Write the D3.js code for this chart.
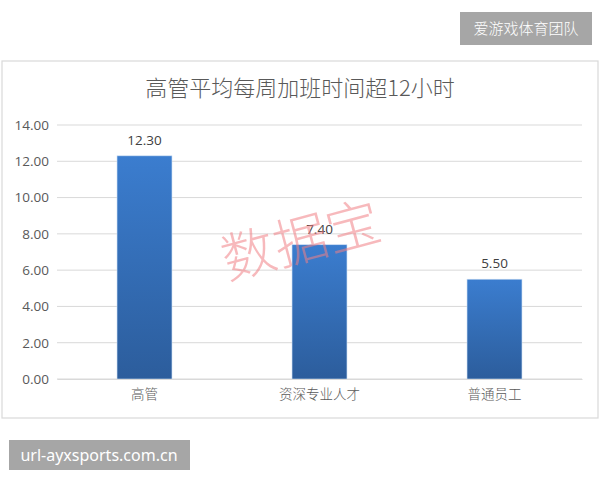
<!DOCTYPE html>
<html lang="zh">
<head>
<meta charset="utf-8" />
<script src="https://d3js.org/d3.v7.min.js"></script>
<style>
  body { margin: 0; background: #fff; }
  svg { display: block; font-family: "Noto Sans CJK SC", "Microsoft YaHei", sans-serif; }
</style>
</head>
<body>
<div id="chart"></div>
<script>
// données
var categories = ["高管", "资深专业人才", "普通员工"];
var values = [12.30, 7.40, 5.50];
var yTicks = [0, 2, 4, 6, 8, 10, 12, 14];
var title = "高管平均每周加班时间超12小时";

var W = 600, H = 480;
var svg = d3.select("#chart").append("svg").attr("width", W).attr("height", H);

// degradé des barres
var grad = svg.append("defs").append("linearGradient")
    .attr("id", "barGrad").attr("x1", 0).attr("y1", 0).attr("x2", 0).attr("y2", 1);
grad.append("stop").attr("offset", "0%").attr("stop-color", "#3b7dcf");
grad.append("stop").attr("offset", "100%").attr("stop-color", "#2c5d9c");

// badge haut droite
svg.append("rect").attr("x", 460).attr("y", 12).attr("width", 132).attr("height", 33).attr("fill", "#a6a6a6");
svg.append("text").attr("x", 526).attr("y", 34).attr("text-anchor", "middle")
    .attr("fill", "#fff").attr("font-size", 15).attr("font-weight", 300).text("爱游戏体育团队");

// cadre du graphique
svg.append("rect").attr("x", 2).attr("y", 61).attr("width", 596).attr("height", 357)
    .attr("fill", "#fff").attr("stroke", "#d9d9d9").attr("stroke-width", 1.2);

svg.append("text").attr("x", 300).attr("y", 96).attr("text-anchor", "middle")
    .attr("fill", "#595959").attr("font-size", 22).attr("font-weight", 300).text(title);

var x = d3.scaleBand().domain(categories).range([57, 582]).paddingInner(0.686).paddingOuter(0.343);
var y = d3.scaleLinear().domain([0, 14]).range([379, 125]);

// grille
svg.append("g").selectAll("line").data(yTicks).enter().append("line")
    .attr("x1", 57).attr("x2", 582)
    .attr("y1", d => y(d)).attr("y2", d => y(d))
    .attr("stroke", "#d9d9d9").attr("stroke-width", 1);

// axe Y
var yAxis = svg.append("g").attr("transform", "translate(49,0)")
    .call(d3.axisLeft(y).tickValues(yTicks).tickFormat(d3.format(".2f")).tickSize(0).tickPadding(0));
yAxis.select(".domain").remove();
yAxis.selectAll("text").attr("fill", "#595959").attr("font-size", 13.5)
    .attr("font-family", "'Open Sans', 'Noto Sans', sans-serif");

// barres
svg.append("g").selectAll("rect").data(values).enter().append("rect")
    .attr("x", (d, i) => x(categories[i]))
    .attr("y", d => y(d))
    .attr("width", x.bandwidth())
    .attr("height", d => y(0) - y(d))
    .attr("fill", "url(#barGrad)")
    .attr("stroke", "#c9dcf2").attr("stroke-width", 0.6);

// étiquettes de valeurs
svg.append("g").selectAll("text").data(values).enter().append("text")
    .attr("x", (d, i) => x(categories[i]) + x.bandwidth() / 2)
    .attr("y", d => y(d) - 11)
    .attr("text-anchor", "middle").attr("fill", "#404040").attr("font-size", 13.5)
    .attr("font-family", "'Open Sans', 'Noto Sans', sans-serif")
    .text(d => d3.format(".2f")(d));

// axe X
var xAxis = svg.append("g").attr("transform", "translate(0,379)")
    .call(d3.axisBottom(x).tickSize(0).tickPadding(10));
xAxis.select(".domain").attr("stroke", "#d9d9d9");
xAxis.selectAll("text").attr("fill", "#595959").attr("font-size", 13.5)
    .attr("font-family", "'Noto Sans CJK SC', sans-serif").attr("font-weight", 300);

// filigrane
svg.append("text").attr("transform", "translate(302,245) rotate(-15)")
    .attr("text-anchor", "middle").attr("dominant-baseline", "middle")
    .attr("font-size", 54).attr("font-weight", 300).attr("fill", "#f07f85").attr("fill-opacity", 0.55)
    .text("数据宝");

// badge bas gauche
svg.append("rect").attr("x", 9).attr("y", 440).attr("width", 181).attr("height", 30).attr("fill", "#a6a6a6");
svg.append("text").attr("x", 99).attr("y", 461).attr("text-anchor", "middle")
    .attr("fill", "#fff").attr("font-size", 16).attr("font-family", "'Noto Sans', sans-serif")
    .text("url-ayxsports.com.cn");
</script>
</body>
</html>
